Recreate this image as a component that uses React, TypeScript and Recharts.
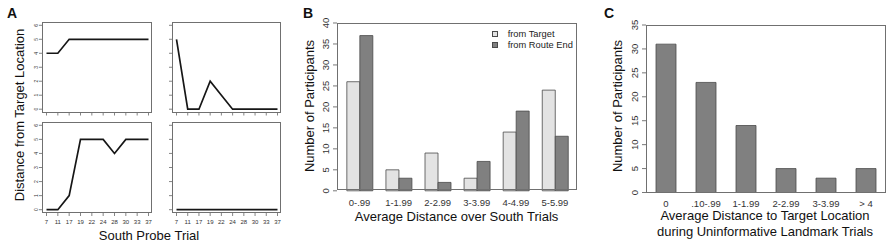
import React from 'react';
import { LineChart, Line, BarChart, Bar, XAxis, YAxis, Legend } from 'recharts';

const FONT = '"Liberation Sans", Arial, Helvetica, sans-serif';

// Panel A: distance from target location on each south probe trial (4 participants)
const trials = ['7', '11', '17', '19', '22', '24', '28', '30', '33', '37'];
const subject1 = [4, 4, 5, 5, 5, 5, 5, 5, 5, 5];
const subject2 = [5, 0, 0, 2, 1, 0, 0, 0, 0, 0];
const subject3 = [0, 0, 1, 5, 5, 5, 4, 5, 5, 5];
const subject4 = [0, 0, 0, 0, 0, 0, 0, 0, 0, 0];
const distTicks = [0, 1, 2, 3, 4, 5, 6];

// Panel B: average distance over south trials
const binsB = ['0-.99', '1-1.99', '2-2.99', '3-3.99', '4-4.99', '5-5.99'];
const fromTarget = [26, 5, 9, 3, 14, 24];
const fromRouteEnd = [37, 3, 2, 7, 19, 13];
const seriesNamesB = ['from Target', 'from Route End'];
const countTicksB = [0, 5, 10, 15, 20, 25, 30, 35, 40];

// Panel C: average distance during uninformative landmark trials
const binsC = ['0', '.10-.99', '1-1.99', '2-2.99', '3-3.99', '> 4'];
const uninformative = [31, 23, 14, 5, 3, 5];
const countTicksC = [0, 5, 10, 15, 20, 25, 30, 35];

type Box = { x: number; y: number; w: number; h: number };

const boxTL: Box = { x: 42, y: 22, w: 110, h: 90.5 };
const boxTR: Box = { x: 172, y: 22, w: 109, h: 90.5 };
const boxBL: Box = { x: 42, y: 121.5, w: 110, h: 91 };
const boxBR: Box = { x: 172, y: 121.5, w: 109, h: 91 };
const boxB: Box = { x: 337, y: 22.7, w: 239.5, h: 167.8 };
const boxC: Box = { x: 646, y: 25, w: 240, h: 167.5 };

const Frame = ({ box }: { box: Box }) => (
  <div
    style={{
      position: 'absolute',
      left: box.x,
      top: box.y,
      width: box.w,
      height: box.h,
      border: '1px solid #707070',
      boxSizing: 'border-box',
      pointerEvents: 'none',
    }}
  />
);

// y tick labels written sideways, as R does by default
const rotTick = (fs: number, show = true) => (p: any) =>
  show ? (
    <text
      x={p.x}
      y={p.y}
      transform={`rotate(-90 ${p.x} ${p.y})`}
      textAnchor="middle"
      fontSize={fs}
      fill="#333"
      fontFamily={FONT}
    >
      {p.payload.value}
    </text>
  ) : (
    <g />
  );

const xTick = (fs: number, gap: number, show = true) => (p: any) =>
  show ? (
    <text x={p.x} y={p.y + gap + 0.35 * fs} textAnchor="middle" fontSize={fs} fill="#333" fontFamily={FONT}>
      {p.payload.value}
    </text>
  ) : (
    <g />
  );

const SmallPlot = ({
  values,
  box,
  yLabels,
  xLabels,
}: {
  values: number[];
  box: Box;
  yLabels: boolean;
  xLabels: boolean;
}) => {
  const m = 8;
  const yw = 14;
  const xh = 14;
  const data = trials.map((trial, i) => ({ trial, dist: values[i] }));
  return (
    <>
      <div style={{ position: 'absolute', left: box.x - yw - m, top: box.y - m }}>
        <LineChart
          width={box.w + yw + 2 * m}
          height={box.h + xh + 2 * m}
          data={data}
          margin={{ top: m, right: m, bottom: m, left: m }}
        >
          <XAxis
            dataKey="trial"
            type="category"
            scale="point"
            padding={{ left: 4.5, right: 3.5 }}
            height={xh}
            interval={0}
            axisLine={false}
            tickSize={3}
            tickMargin={0}
            tickLine={{ stroke: '#666', strokeWidth: 0.8 }}
            tick={xTick(6, 5.5, xLabels)}
          />
          <YAxis
            type="number"
            domain={[0, 6]}
            ticks={distTicks}
            interval={0}
            padding={{ top: 3.3, bottom: 3.3 }}
            width={yw}
            axisLine={false}
            tickSize={3}
            tickMargin={1}
            tickLine={{ stroke: '#666', strokeWidth: 0.8 }}
            tick={rotTick(5, yLabels)}
          />
          <Line
            type="linear"
            dataKey="dist"
            stroke="#161616"
            strokeWidth={1.7}
            dot={false}
            isAnimationActive={false}
          />
        </LineChart>
      </div>
      <Frame box={box} />
    </>
  );
};

const legendContent = (props: any) => {
  const items = [...(props.payload ?? [])].sort(
    (a: any, b: any) => seriesNamesB.indexOf(a.value) - seriesNamesB.indexOf(b.value)
  );
  return (
    <div style={{ fontFamily: FONT, fontSize: 9.3, color: '#222' }}>
      {items.map((e: any) => (
        <div key={e.value} style={{ display: 'flex', alignItems: 'center', height: 10.7, whiteSpace: 'nowrap' }}>
          <span
            style={{
              display: 'inline-block',
              width: 6,
              height: 6,
              background: e.color,
              border: '0.8px solid #4a4a4a',
              boxSizing: 'border-box',
              marginRight: 10,
            }}
          />
          <span>{e.value}</span>
        </div>
      ))}
    </div>
  );
};

const PanelB = () => {
  const m = 8;
  const yw = 24;
  const xh = 24;
  const data = binsB.map((bin, i) => ({ bin, target: fromTarget[i], routeEnd: fromRouteEnd[i] }));
  const left = boxB.x - yw - m;
  const top = boxB.y - m;
  return (
    <>
      <div style={{ position: 'absolute', left, top }}>
        <BarChart
          width={boxB.w + yw + 2 * m}
          height={boxB.h + xh + 2 * m}
          data={data}
          margin={{ top: m, right: m, bottom: m, left: m }}
          barCategoryGap="17.5%"
          barGap={0}
        >
          <XAxis
            dataKey="bin"
            padding={{ left: 3, right: 2 }}
            height={xh}
            interval={0}
            axisLine={false}
            tickLine={false}
            tickSize={0}
            tickMargin={0}
            tick={xTick(9.5, 11.5)}
          />
          <YAxis
            type="number"
            domain={[0, 40]}
            ticks={countTicksB}
            interval={0}
            width={yw}
            axisLine={false}
            tickSize={4}
            tickMargin={4}
            tickLine={{ stroke: '#555', strokeWidth: 0.8 }}
            tick={rotTick(9.5)}
          />
          <Bar dataKey="target" name={seriesNamesB[0]} fill="#e3e3e3" stroke="#4a4a4a" strokeWidth={0.8} isAnimationActive={false} />
          <Bar dataKey="routeEnd" name={seriesNamesB[1]} fill="#808080" stroke="#4a4a4a" strokeWidth={0.8} isAnimationActive={false} />
          <Legend
            layout="horizontal"
            verticalAlign="middle"
            align="center"
            content={legendContent}
            wrapperStyle={{ left: 491.7 - left, top: 28.6 - top, width: 'auto' }}
          />
        </BarChart>
      </div>
      <Frame box={boxB} />
    </>
  );
};

const PanelC = () => {
  const m = 8;
  const yw = 24;
  const xh = 24;
  const data = binsC.map((bin, i) => ({ bin, count: uninformative[i] }));
  return (
    <>
      <div style={{ position: 'absolute', left: boxC.x - yw - m, top: boxC.y - m }}>
        <BarChart
          width={boxC.w + yw + 2 * m}
          height={boxC.h + xh + 2 * m}
          data={data}
          margin={{ top: m, right: m, bottom: m, left: m }}
          barCategoryGap="25%"
        >
          <XAxis
            dataKey="bin"
            height={xh}
            interval={0}
            axisLine={false}
            tickLine={false}
            tickSize={0}
            tickMargin={0}
            tick={xTick(9.5, 10.8)}
          />
          <YAxis
            type="number"
            domain={[0, 35]}
            ticks={countTicksC}
            interval={0}
            width={yw}
            axisLine={false}
            tickSize={4}
            tickMargin={4}
            tickLine={{ stroke: '#555', strokeWidth: 0.8 }}
            tick={rotTick(9.5)}
          />
          <Bar dataKey="count" fill="#808080" stroke="#4a4a4a" strokeWidth={0.8} isAnimationActive={false} />
        </BarChart>
      </div>
      <Frame box={boxC} />
    </>
  );
};

const VText = ({ x, y, children }: { x: number; y: number; children: React.ReactNode }) => (
  <text transform={`translate(${x} ${y}) rotate(-90)`} textAnchor="middle" dy="0.35em" fontSize={13} fill="#111">
    {children}
  </text>
);

export default function App() {
  return (
    <div
      style={{
        position: 'absolute',
        left: 0,
        top: 0,
        width: 892,
        height: 246,
        background: '#fff',
        overflow: 'hidden',
        fontFamily: FONT,
      }}
    >
      <SmallPlot values={subject1} box={boxTL} yLabels xLabels={false} />
      <SmallPlot values={subject2} box={boxTR} yLabels={false} xLabels={false} />
      <SmallPlot values={subject3} box={boxBL} yLabels xLabels />
      <SmallPlot values={subject4} box={boxBR} yLabels={false} xLabels />
      <PanelB />
      <PanelC />
      <svg
        width={892}
        height={246}
        style={{ position: 'absolute', left: 0, top: 0, pointerEvents: 'none' }}
        fontFamily={FONT}
      >
        <text x={7} y={18} fontSize={14} fontWeight="bold" fill="#111">A</text>
        <text x={303} y={17.5} fontSize={14} fontWeight="bold" fill="#111">B</text>
        <text x={604} y={18} fontSize={14} fontWeight="bold" fill="#111">C</text>

        <VText x={19} y={115}>Distance from Target Location</VText>
        <text x={149} y={235} dy="0.35em" textAnchor="middle" fontSize={13} fill="#111">South Probe Trial</text>

        <VText x={309.5} y={106}>Number of Participants</VText>
        <text x={456.5} y={216} dy="0.35em" textAnchor="middle" fontSize={13} fill="#111">Average Distance over South Trials</text>

        <VText x={617.5} y={106}>Number of Participants</VText>
        <text x={765} y={215.5} dy="0.35em" textAnchor="middle" fontSize={13} fill="#111">Average Distance to Target Location</text>
        <text x={765} y={231.2} dy="0.35em" textAnchor="middle" fontSize={13} fill="#111">during Uninformative Landmark Trials</text>
      </svg>
    </div>
  );
}
